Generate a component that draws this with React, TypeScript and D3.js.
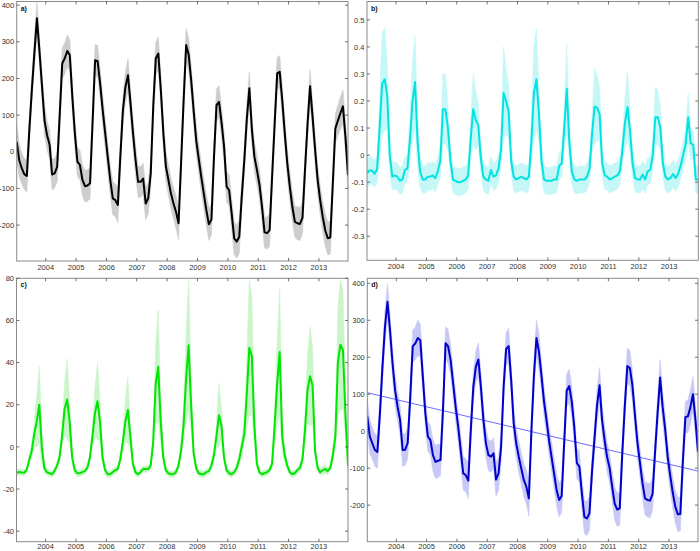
import * as d3 from "d3";
import React from "react";

// monthly series, Jan 2003 .. Dec 2013 (one row per year)
const START_YEAR = 2003;
const YEAR_TICKS = [2004, 2005, 2006, 2007, 2008, 2009, 2010, 2011, 2012, 2013];

const seriesA = [
  27, -23, -45, -61, -66, 60, 170, 270, 364, 275, 180, 85,
  45, 20, -62, -59, -41, 100, 241, 255, 275, 264, 150, 50,
  -27, -36, -77, -94, -92, -86, 80, 250, 247, 186, 114, 50,
  -14, -77, -127, -132, -145, -10, 114, 177, 209, 132, 50, -23,
  -82, -82, -73, -141, -127, -59, 125, 255, 268, 168, 50, -41,
  -77, -114, -141, -164, -195, -30, 140, 291, 265, 195, 110, 30,
  -20, -70, -115, -160, -198, -185, -15, 127, 136, 80, 14, -95,
  -105, -168, -236, -245, -232, -121, -23, 91, 173, 60, -14, -50,
  -90, -150, -220, -222, -214, -66, 77, 214, 218, 141, 50, -32,
  -95, -150, -191, -195, -197, -180, -49, 75, 179, 95, 5, -77,
  -132, -177, -214, -236, -234, -86, 64, 85, 105, 124, 40, -64,
];
const spreadA = [
  50, 45, 42, 42, 44, 40, 38, 40, 44, 40, 38, 42,
  40, 38, 42, 40, 40, 40, 42, 42, 44, 42, 40, 40,
  40, 40, 42, 43, 43, 42, 40, 42, 44, 40, 40, 40,
  40, 42, 45, 45, 48, 40, 40, 42, 45, 40, 40, 40,
  42, 42, 42, 45, 42, 40, 40, 44, 45, 40, 40, 40,
  42, 42, 42, 45, 45, 40, 40, 45, 45, 40, 40, 40,
  40, 40, 42, 42, 44, 42, 40, 44, 44, 40, 40, 42,
  42, 42, 44, 45, 45, 42, 40, 42, 45, 40, 40, 40,
  40, 40, 42, 44, 44, 40, 40, 44, 44, 40, 40, 40,
  40, 40, 42, 45, 45, 42, 40, 42, 44, 40, 40, 40,
  40, 42, 44, 45, 45, 42, 40, 42, 44, 45, 40, 40,
];

const seriesB = [
  -0.067, -0.057, -0.057, -0.069, -0.052, 0.1, 0.265, 0.28, 0.22, 0.0, -0.08, -0.075,
  -0.08, -0.095, -0.09, -0.055, -0.05, 0.06, 0.2, 0.27, 0.05, -0.06, -0.09, -0.09,
  -0.08, -0.08, -0.075, -0.085, -0.06, -0.02, 0.17, 0.17, 0.1, -0.02, -0.09, -0.095,
  -0.1, -0.1, -0.095, -0.09, -0.075, 0.06, 0.17, 0.13, 0.11, -0.01, -0.08, -0.09,
  -0.095, -0.055, -0.08, -0.075, -0.05, 0.02, 0.23, 0.2, 0.16, -0.02, -0.08, -0.09,
  -0.085, -0.08, -0.085, -0.09, -0.08, 0.05, 0.23, 0.28, 0.15, -0.02, -0.09, -0.095,
  -0.095, -0.095, -0.09, -0.09, -0.04, -0.03, 0.1, 0.245, 0.05, -0.06, -0.09, -0.095,
  -0.09, -0.09, -0.09, -0.08, -0.05, 0.08, 0.18, 0.175, 0.15, -0.03, -0.075, -0.08,
  -0.09, -0.085, -0.08, -0.075, -0.06, 0.02, 0.12, 0.178, 0.09, -0.03, -0.085, -0.09,
  -0.09, -0.072, -0.09, -0.06, -0.055, 0.0, 0.14, 0.14, 0.1, -0.03, -0.08, -0.09,
  -0.085, -0.07, -0.085, -0.07, -0.04, 0.0, 0.04, 0.14, 0.044, 0.038, -0.09, -0.09,
];
const spreadB = [
  0.06, 0.05, 0.05, 0.05, 0.05, 0.12, 0.19, 0.19, 0.12, 0.07, 0.05, 0.05,
  0.05, 0.05, 0.05, 0.05, 0.05, 0.08, 0.15, 0.17, 0.1, 0.06, 0.05, 0.05,
  0.05, 0.05, 0.05, 0.05, 0.05, 0.06, 0.13, 0.13, 0.08, 0.05, 0.05, 0.05,
  0.05, 0.05, 0.05, 0.05, 0.05, 0.07, 0.13, 0.11, 0.08, 0.05, 0.05, 0.05,
  0.05, 0.05, 0.05, 0.05, 0.05, 0.06, 0.17, 0.12, 0.1, 0.05, 0.05, 0.05,
  0.05, 0.05, 0.05, 0.05, 0.05, 0.08, 0.18, 0.19, 0.1, 0.06, 0.05, 0.05,
  0.05, 0.05, 0.05, 0.05, 0.05, 0.05, 0.08, 0.165, 0.07, 0.05, 0.05, 0.05,
  0.05, 0.05, 0.05, 0.05, 0.05, 0.07, 0.14, 0.12, 0.1, 0.05, 0.05, 0.05,
  0.05, 0.05, 0.05, 0.05, 0.05, 0.05, 0.09, 0.13, 0.08, 0.05, 0.05, 0.05,
  0.05, 0.05, 0.05, 0.05, 0.05, 0.05, 0.11, 0.1, 0.08, 0.05, 0.05, 0.05,
  0.05, 0.05, 0.05, 0.05, 0.05, 0.05, 0.06, 0.09, 0.06, 0.05, 0.05, 0.05,
];

const seriesC = [
  -12.3, -11.9, -12.2, -12.3, -11, -6.3, -2, 6, 12, 20, 0, -10,
  -12, -12.5, -13, -11.5, -9, -5, 5, 18, 22.5, 12, -5, -11,
  -12.5, -12.5, -12, -11.5, -10, -5, 5, 16, 21.7, 12, -5, -11,
  -13, -13, -12, -11, -10.5, -6, 2, 12, 17.5, 5, -8, -12,
  -13, -12, -10.5, -10.5, -10.5, -9, 2, 30, 38, 12, -5, -11,
  -12.5, -13, -13, -12, -9, -2, 10, 32, 48.2, 20, -3, -10,
  -12.5, -13, -13, -12, -11.5, -9, -4, 5, 15, 10, -5, -11,
  -12.5, -13, -12, -10, -6, 0, 6, 25, 47, 43, 10, -8,
  -12, -13, -12.5, -12, -11, -8, 10, 30, 45, 5, -4, -9,
  -12, -13, -12.5, -11, -10, -6, 8, 27, 33.5, 29, -2, -10,
  -12, -11, -10.5, -11.5, -10, -4, 5, 40, 48.5, 46, 15, -9,
];
const spreadC = [
  1.5, 1.5, 1.5, 1.5, 1.5, 2, 3, 6, 12, 18, 8, 2,
  1.5, 1.5, 1.5, 1.5, 1.5, 2, 4, 12, 19, 10, 3, 2,
  1.5, 1.5, 1.5, 1.5, 1.5, 2, 4, 12, 18, 10, 3, 2,
  1.5, 1.5, 1.5, 1.5, 1.5, 2, 4, 10, 15.5, 6, 2, 1.5,
  1.5, 1.5, 1.5, 1.5, 1.5, 1.5, 3, 18, 26.7, 10, 3, 2,
  1.5, 1.5, 1.5, 1.5, 2, 3, 8, 20, 31.5, 12, 3, 2,
  1.5, 1.5, 1.5, 1.5, 1.5, 2, 3, 6, 15, 8, 3, 2,
  1.5, 1.5, 1.5, 2, 3, 4, 5, 16, 32, 28, 8, 3,
  1.5, 1.5, 1.5, 1.5, 1.5, 2, 8, 20, 30, 8, 3, 2,
  1.5, 1.5, 1.5, 1.5, 2, 3, 6, 16, 23.5, 18, 3, 2,
  1.5, 2, 2, 1.5, 1.5, 3, 5, 25, 31, 28, 10, 3,
];

const seriesD = [
  40, -15, -33, -51, -56, 48, 174, 282, 350, 273, 183, 111,
  66, 30, -51, -50, -32, 90, 230, 237, 252, 246, 147, 48,
  -15, -24, -65, -83, -80, -78, 60, 238, 230, 192, 129, 66,
  12, -51, -114, -119, -134, 3, 120, 174, 194, 120, 30, -33,
  -65, -69, -60, -131, -114, -42, 120, 223, 230, 138, 21, -33,
  -69, -101, -132, -150, -182, 0, 150, 252, 215, 150, 80, 30,
  -25, -70, -115, -160, -186, -175, -30, 110, 122, 80, 10, -86,
  -96, -168, -232, -236, -222, -110, -20, 70, 124, 30, -24, -70,
  -100, -150, -196, -212, -209, -60, 67, 176, 171, 125, 45, -30,
  -85, -140, -182, -186, -188, -170, -55, 50, 145, 65, 5, -70,
  -120, -166, -204, -225, -224, -82, 38, 40, 65, 100, 30, -56,
];
const spreadD = [
  48, 45, 42, 44, 44, 40, 40, 44, 48, 42, 40, 42,
  40, 40, 44, 42, 42, 42, 44, 44, 48, 44, 40, 40,
  40, 40, 42, 45, 45, 42, 40, 44, 46, 40, 40, 40,
  40, 42, 45, 45, 48, 40, 40, 42, 45, 40, 40, 40,
  42, 42, 42, 45, 45, 40, 40, 44, 48, 40, 40, 40,
  42, 42, 44, 46, 48, 40, 40, 48, 48, 40, 40, 40,
  40, 40, 42, 42, 46, 44, 40, 44, 46, 40, 40, 42,
  42, 42, 45, 46, 46, 42, 40, 42, 48, 40, 40, 40,
  40, 40, 44, 45, 45, 40, 40, 48, 48, 40, 40, 40,
  40, 40, 44, 46, 46, 44, 40, 42, 48, 42, 40, 40,
  40, 42, 44, 46, 46, 42, 42, 44, 46, 48, 40, 40,
];
// linear fit drawn in d): value at first and last month
const trendD = [104, -108];

const ticksA = [-200, -100, 0, 100, 200, 300, 400];
const ticksB = [-0.3, -0.2, -0.1, 0, 0.1, 0.2, 0.3, 0.4, 0.5];
const ticksC = [-40, -20, 0, 20, 40, 60, 80];
const ticksD = [-200, -100, 0, 100, 200, 300, 400];

const FONT = "'Liberation Sans', Arial, sans-serif";
const monthTime = (i: number) => START_YEAR + (i + 0.5) / 12;

type PanelProps = {
  id: string;
  label: string;
  box: [number, number, number, number]; // left, top, right, bottom
  domain: [number, number];
  ticks: number[];
  values: number[];
  spread: number[];
  stroke: string;
  fill: string;
  labelGap: number;
  trend?: number[];
};

function Panel({ id, label, box, domain, ticks, values, spread, stroke, fill, labelGap, trend }: PanelProps) {
  const [left, top, right, bottom] = box;
  const n = values.length;
  const x = d3
    .scaleLinear()
    .domain([monthTime(0), monthTime(n - 1)])
    .range([left, right]);
  const y = d3.scaleLinear().domain(domain).range([bottom, top]);

  const band = d3
    .area<number>()
    .x((_, i) => x(monthTime(i)))
    .y0((v, i) => y(v - spread[i]))
    .y1((v, i) => y(v + spread[i]));
  const line = d3
    .line<number>()
    .x((_, i) => x(monthTime(i)))
    .y((v) => y(v));

  const tickLen = 3;
  const tickColor = "#4d4d4d";

  return (
    <g>
      <defs>
        <clipPath id={"clip-" + id}>
          <rect x={left} y={top} width={right - left} height={bottom - top} />
        </clipPath>
      </defs>
      <rect x={left} y={top} width={right - left} height={bottom - top} fill="#fff" />
      <g clipPath={`url(#clip-${id})`}>
        <path d={band(values) || ""} fill={fill} stroke={fill} strokeWidth={0.6} />
        {trend && (
          <line
            x1={x(monthTime(0))}
            y1={y(trend[0])}
            x2={x(monthTime(n - 1))}
            y2={y(trend[1])}
            stroke="#6b6bff"
            strokeWidth={1}
          />
        )}
        <path d={line(values) || ""} fill="none" stroke={stroke} strokeWidth={2} strokeLinejoin="round" />
      </g>
      <rect x={left} y={top} width={right - left} height={bottom - top} fill="none" stroke="#8a8a8a" strokeWidth={1} />
      {YEAR_TICKS.map((yr) => (
        <g key={yr}>
          <line x1={x(yr)} x2={x(yr)} y1={bottom} y2={bottom - tickLen} stroke={tickColor} strokeWidth={0.8} />
          <line x1={x(yr)} x2={x(yr)} y1={top} y2={top + tickLen} stroke={tickColor} strokeWidth={0.8} />
          <text x={x(yr)} y={bottom + labelGap} textAnchor="middle" fontSize={7.5} fill="#333" fontFamily={FONT}>
            {yr}
          </text>
        </g>
      ))}
      {ticks.map((t) => (
        <g key={t}>
          <line x1={left} x2={left + tickLen} y1={y(t)} y2={y(t)} stroke={tickColor} strokeWidth={0.8} />
          <line x1={right} x2={right - tickLen} y1={y(t)} y2={y(t)} stroke={tickColor} strokeWidth={0.8} />
          <text x={left - 2.5} y={y(t)} dy="0.35em" textAnchor="end" fontSize={7.5} fill="#333" fontFamily={FONT}>
            {String(t)}
          </text>
        </g>
      ))}
      <text x={left + 4} y={top + 9} fontSize={7} fontWeight="bold" fill="#111" fontFamily={FONT}>
        {label}
      </text>
    </g>
  );
}

export default function App() {
  return (
    <svg
      width={700}
      height={551}
      style={{ position: "absolute", left: 0, top: 0, background: "#fff" }}
    >
      <rect width={700} height={551} fill="#fff" />
      <Panel
        id="a"
        label="a)"
        box={[16.7, 1.5, 348, 261]}
        domain={[-298, 410]}
        ticks={ticksA}
        values={seriesA}
        spread={spreadA}
        stroke="#000"
        fill="#cdcdcd"
        labelGap={9}
      />
      <Panel
        id="b"
        label="b)"
        box={[367, 1.5, 698.3, 260.3]}
        domain={[-0.389, 0.568]}
        ticks={ticksB}
        values={seriesB}
        spread={spreadB}
        stroke="#00e3e3"
        fill="#c6f7f7"
        labelGap={9}
      />
      <Panel
        id="c"
        label="c)"
        box={[16.5, 278.3, 348, 541.7]}
        domain={[-45, 80]}
        ticks={ticksC}
        values={seriesC}
        spread={spreadC}
        stroke="#00e600"
        fill="#c9f5c9"
        labelGap={7.4}
      />
      <Panel
        id="d"
        label="d)"
        box={[367.3, 278.3, 698, 541.7]}
        domain={[-299, 413.5]}
        ticks={ticksD}
        values={seriesD}
        spread={spreadD}
        stroke="#0000cc"
        fill="#c8c8f6"
        trend={trendD}
        labelGap={7.4}
      />
    </svg>
  );
}
